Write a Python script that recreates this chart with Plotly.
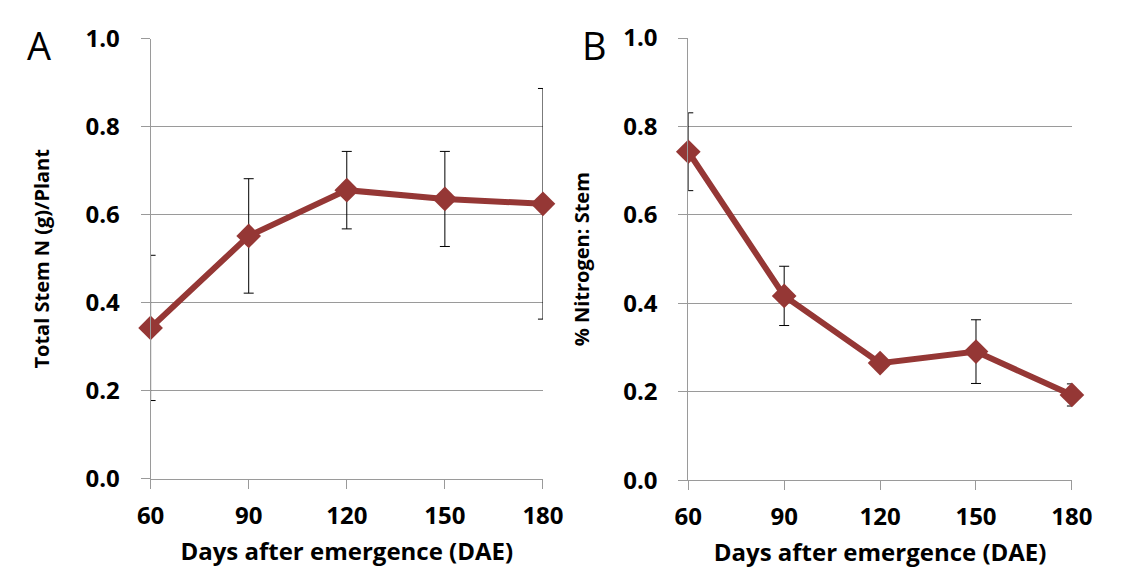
import plotly.graph_objects as go

days = [60, 90, 120, 150, 180]
stem_n = [0.343, 0.552, 0.656, 0.636, 0.625]
stem_n_err = [0.165, 0.13, 0.088, 0.108, 0.262]
pct_n = [0.743, 0.417, 0.265, 0.291, 0.193]
pct_n_err = [0.088, 0.067, 0.008, 0.072, 0.025]
y_ticks = [0.0, 0.2, 0.4, 0.6, 0.8, 1.0]
y_tick_text = ["0.0", "0.2", "0.4", "0.6", "0.8", "1.0"]

W, H = 1121, 574
LINE = "#953735"
FONT = "Open Sans"
AXC = "#9a9a9a"

fig = go.Figure()
for i, (vals, errs) in enumerate([(stem_n, stem_n_err), (pct_n, pct_n_err)]):
    ax = "" if i == 0 else "2"
    fig.add_trace(go.Scatter(
        x=days, y=vals, xaxis="x" + ax, yaxis="y" + ax,
        mode="lines+markers",
        line=dict(color=LINE, width=6),
        marker=dict(symbol="diamond", size=19, color=LINE),
        error_y=dict(type="data", array=errs, visible=True, color="black",
                     thickness=1, width=5),
        cliponaxis=False, showlegend=False,
    ))

def xax(domain, anchor):
    return dict(domain=domain, anchor=anchor, range=[60, 180],
                tickvals=days, ticks="outside", ticklen=9, tickcolor=AXC,
                showline=True, linecolor=AXC, linewidth=1,
                showgrid=False, zeroline=False, ticklabelstandoff=6,
                tickfont=dict(family=FONT, size=24, color="black", weight="bold"),
                title=dict(text="Days after emergence (DAE)", standoff=13,
                           font=dict(family=FONT, size=24, color="black", weight="bold")))

def yax(domain, anchor, title, standoff):
    return dict(domain=domain, anchor=anchor, range=[0, 1.0],
                tickvals=y_ticks, ticktext=y_tick_text,
                ticks="outside", ticklen=9, tickcolor=AXC,
                showline=True, linecolor=AXC, linewidth=1,
                showgrid=True, gridcolor=AXC, gridwidth=1, zeroline=False,
                ticklabelstandoff=16,
                tickfont=dict(family=FONT, size=24, color="black", weight="bold"),
                title=dict(text=title, standoff=standoff,
                           font=dict(family=FONT, size=20, color="black", weight="bold")))

ydom1 = [(H - 489) / H, (H - 22) / H]
ydom2 = [(H - 490.5) / H, (H - 21.3) / H]
fig.update_layout(
    width=W, height=H,
    margin=dict(l=0, r=0, t=0, b=0),
    paper_bgcolor="white", plot_bgcolor="white",
    xaxis=xax([141 / W, 546 / W], "y"),
    yaxis=yax(ydom1, "x", "Total Stem N (g)/Plant", 30),
    xaxis2=xax([696 / W, 1092 / W], "y2"),
    yaxis2=yax(ydom2, "x2", "% Nitrogen: Stem", 28),
    annotations=[
        dict(text="A", x=26 / W, y=1 - 29 / H, xref="paper", yref="paper",
             xanchor="center", yanchor="middle",
             showarrow=False, font=dict(family=FONT, size=38, color="black")),
        dict(text="B", x=599 / W, y=1 - 29 / H, xref="paper", yref="paper",
             xanchor="center", yanchor="middle",
             showarrow=False, font=dict(family=FONT, size=38, color="black")),
    ],
)

fig.write_html("out.html")
